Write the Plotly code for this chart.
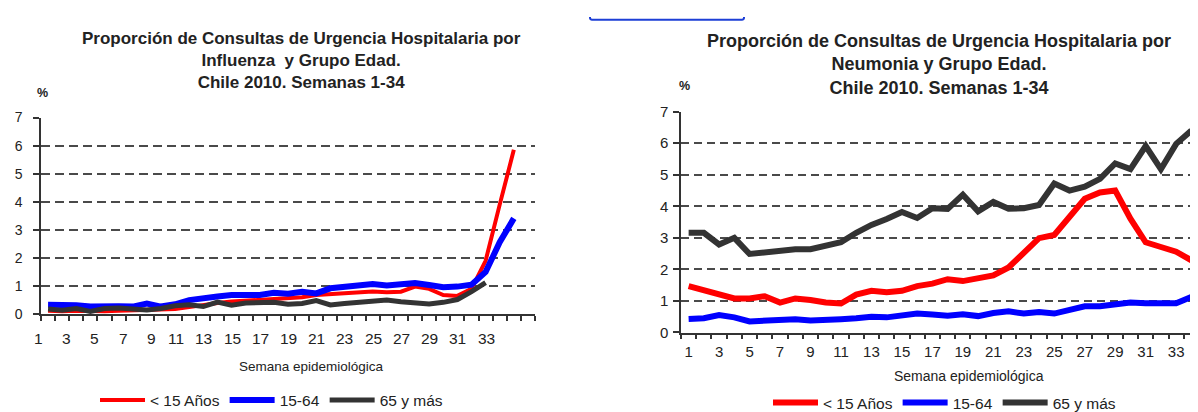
import plotly.graph_objects as go

W, H = 1198, 412


def pxx(x):
    return x / W


def pxy(y):
    return 1 - y / H


# ---------------- data ----------------
series_names = ["< 15 Años", "15-64", "65 y más"]
series_colors = ["#ff0000", "#0000ff", "#333333"]

# Influenza chart (positions as drawn against the printed week labels)
flu_weeks = list(range(2, 36))
flu_weeks_65 = list(range(2, 34))
flu_lt15 = [0.12, 0.10, 0.12, 0.10, 0.10, 0.12, 0.13, 0.15, 0.17, 0.18,
            0.25, 0.33, 0.40, 0.45, 0.48, 0.50, 0.52, 0.56, 0.60, 0.68,
            0.72, 0.76, 0.79, 0.81, 0.78, 0.80, 0.98, 0.90, 0.68, 0.65,
            0.90, 1.90, 3.90, 5.85]
flu_15_64 = [0.33, 0.33, 0.32, 0.27, 0.25, 0.28, 0.27, 0.38, 0.27, 0.35,
             0.50, 0.58, 0.63, 0.68, 0.70, 0.68, 0.76, 0.73, 0.80, 0.74,
             0.92, 0.96, 0.99, 1.07, 1.02, 1.09, 1.11, 1.04, 0.96, 0.98,
             1.05, 1.50, 2.56, 3.41]
flu_65 = [0.18, 0.14, 0.20, 0.10, 0.20, 0.22, 0.18, 0.15, 0.20, 0.30,
          0.33, 0.27, 0.43, 0.32, 0.40, 0.42, 0.42, 0.35, 0.38, 0.48,
          0.33, 0.38, 0.43, 0.45, 0.50, 0.44, 0.38, 0.36, 0.42, 0.52,
          0.80, 1.12]
flu_tick_labels = [1, 3, 5, 7, 9, 11, 13, 15, 17, 19, 21, 23, 25, 27, 29, 31, 33]
flu_tick_bounds = [b + 0.5 for b in range(1, 37)]
flu_range = [1.5, 36.5]

# Neumonia chart
neu_weeks = list(range(1, 35))
neu_lt15 = [1.47, 1.35, 1.20, 1.08, 1.08, 1.15, 0.95, 1.08, 1.03, 0.95,
            0.92, 1.20, 1.32, 1.28, 1.32, 1.47, 1.55, 1.69, 1.63, 1.73,
            1.81, 2.06, 2.51, 2.99, 3.09, 3.67, 4.24, 4.44, 4.50, 3.61,
            2.86, 2.71, 2.56, 2.29]
neu_15_64 = [0.43, 0.45, 0.55, 0.48, 0.35, 0.38, 0.43, 0.42, 0.38, 0.38,
             0.42, 0.45, 0.50, 0.48, 0.52, 0.60, 0.57, 0.53, 0.58, 0.52,
             0.62, 0.67, 0.60, 0.65, 0.60, 0.73, 0.83, 0.83, 0.90, 0.95,
             0.93, 0.93, 0.93, 1.13]
neu_65 = [3.16, 3.16, 2.79, 3.00, 2.49, 2.54, 2.59, 2.64, 2.64, 2.76,
          2.86, 3.16, 3.41, 3.60, 3.82, 3.63, 3.94, 3.92, 4.37, 3.84,
          4.14, 3.92, 3.94, 4.04, 4.72, 4.50, 4.62, 4.87, 5.36, 5.18,
          5.91, 5.18, 5.98, 6.40]
neu_tick_labels = [1, 3, 5, 7, 9, 11, 13, 15, 17, 19, 21, 23, 25, 27, 29, 31, 33]
neu_tick_bounds = [b + 0.5 for b in range(0, 35)]
neu_range = [0.5, 34.5]

y_ticks = [0, 1, 2, 3, 4, 5, 6, 7]

title_left = ("Proporción de Consultas de Urgencia Hospitalaria por<br>"
              "Influenza  y Grupo Edad.<br>Chile 2010. Semanas 1-34")
title_right = ("Proporción de Consultas de Urgencia Hospitalaria por<br>"
               "Neumonia y Grupo Edad.<br>Chile 2010. Semanas 1-34")
x_title = "Semana epidemiológica"

FONT = "Liberation Sans, Arial, sans-serif"
TXT = "#222222"
AX = "#333333"

fig = go.Figure()

# Left chart traces
flu_x = [flu_weeks, flu_weeks, flu_weeks_65]
flu_y = [flu_lt15, flu_15_64, flu_65]
flu_w = [4, 6, 5]
for name, col, xs, ys, lw in zip(series_names, series_colors, flu_x, flu_y, flu_w):
    fig.add_trace(go.Scatter(x=xs, y=ys, mode="lines", name=name,
                             line=dict(color=col, width=lw),
                             xaxis="x", yaxis="y", legend="legend"))

# Right chart traces
neu_y = [neu_lt15, neu_15_64, neu_65]
neu_w = [6, 6, 6]
for name, col, ys, lw in zip(series_names, series_colors, neu_y, neu_w):
    fig.add_trace(go.Scatter(x=neu_weeks, y=ys, mode="lines", name=name,
                             line=dict(color=col, width=lw),
                             xaxis="x2", yaxis="y2", legend="legend2"))

yaxis_common = dict(range=[0, 7], tickvals=y_ticks, ticks="outside", ticklen=6,
                    tickwidth=1.5, tickcolor=AX, showline=True, linecolor=AX,
                    linewidth=1.5, zeroline=False, showgrid=True,
                    gridcolor="#4a4a4a", fixedrange=True)

fig.update_layout(
    width=W, height=H,
    margin=dict(l=0, r=0, t=0, b=0),
    paper_bgcolor="white", plot_bgcolor="white",
    font=dict(family=FONT, color=TXT),
    xaxis=dict(domain=[pxx(33), pxx(527)], range=flu_range, anchor="y",
               tickvals=flu_tick_bounds, ticks="outside", ticklen=5,
               tickwidth=1.5, tickcolor=AX, showticklabels=False,
               showline=True, linecolor=AX, linewidth=1.5,
               showgrid=False, zeroline=False),
    yaxis=dict(domain=[pxy(312.3), pxy(105.7)], anchor="x",
               griddash="9px,5px", gridwidth=2, ticklabelstandoff=8,
               tickfont=dict(size=14, color=TXT), **yaxis_common),
    xaxis2=dict(domain=[pxx(673), pxx(1191)], range=neu_range, anchor="y2",
                tickvals=neu_tick_labels, ticks="", ticklabelstandoff=5,
                tickfont=dict(size=15, color=TXT),
                minor=dict(tickvals=neu_tick_bounds, ticks="outside", ticklen=5,
                           tickwidth=1.5, tickcolor=AX, showgrid=False),
                showline=True, linecolor=AX, linewidth=1.5,
                showgrid=False, zeroline=False),
    yaxis2=dict(domain=[pxy(331.6), pxy(99.5)], anchor="x2",
                griddash="8px,5px", gridwidth=1.5, ticklabelstandoff=2,
                tickfont=dict(size=15, color=TXT), **yaxis_common),
    legend=dict(orientation="h", x=pxx(87), y=pxy(403), xanchor="left",
                yanchor="middle", font=dict(size=15.5, color=TXT),
                bgcolor="rgba(0,0,0,0)", itemwidth=45),
    legend2=dict(orientation="h", x=pxx(760), y=pxy(406), xanchor="left",
                 yanchor="middle", font=dict(size=15.5, color=TXT),
                 bgcolor="rgba(0,0,0,0)", itemwidth=45),
    showlegend=True,
)

ann = []
ann.append(dict(text=title_left, x=pxx(293), y=pxy(46), xref="paper", yref="paper",
                showarrow=False, xanchor="center", yanchor="middle",
                font=dict(size=17, color=TXT, family=FONT, weight="bold")))
ann.append(dict(text=title_right, x=pxx(931), y=pxy(50), xref="paper", yref="paper",
                showarrow=False, xanchor="center", yanchor="middle",
                font=dict(size=18, color=TXT, family=FONT, weight="bold")))
ann.append(dict(text="%", x=pxx(34), y=pxy(80), xref="paper", yref="paper",
                showarrow=False, xanchor="center", yanchor="middle",
                font=dict(size=12.5, color=TXT, family=FONT, weight="bold")))
ann.append(dict(text="%", x=pxx(676), y=pxy(72), xref="paper", yref="paper",
                showarrow=False, xanchor="center", yanchor="middle",
                font=dict(size=12.5, color=TXT, family=FONT, weight="bold")))
ann.append(dict(text=x_title, x=pxx(303), y=pxy(367), xref="paper", yref="paper",
                showarrow=False, xanchor="center", yanchor="middle",
                font=dict(size=13.5, color=TXT, family=FONT)))
ann.append(dict(text=x_title, x=pxx(961), y=pxy(377), xref="paper", yref="paper",
                showarrow=False, xanchor="center", yanchor="middle",
                font=dict(size=14, color=TXT, family=FONT)))
# week labels of the left chart, placed through the x axis domain scale
span = flu_range[1] - flu_range[0]
for lab in flu_tick_labels:
    ann.append(dict(text=str(lab), x=(lab - flu_range[0]) / span, y=pxy(338),
                    xref="x domain", yref="paper",
                    showarrow=False, xanchor="right", yanchor="middle", xshift=11,
                    font=dict(size=15.5, color=TXT, family=FONT)))
fig.update_layout(annotations=ann)

# blue frame fragment at the top edge
fig.add_shape(type="path", xref="paper", yref="paper",
              path=(f"M {pxx(582)},1 L {pxx(582)},{pxy(1)} "
                    f"Q {pxx(582)},{pxy(3)} {pxx(586)},{pxy(3)} "
                    f"L {pxx(732)},{pxy(3)} Q {pxx(736)},{pxy(3)} {pxx(736)},{pxy(1)} "
                    f"L {pxx(736)},1"),
              line=dict(color="#1d3fd6", width=2))

fig.write_html("out.html")
